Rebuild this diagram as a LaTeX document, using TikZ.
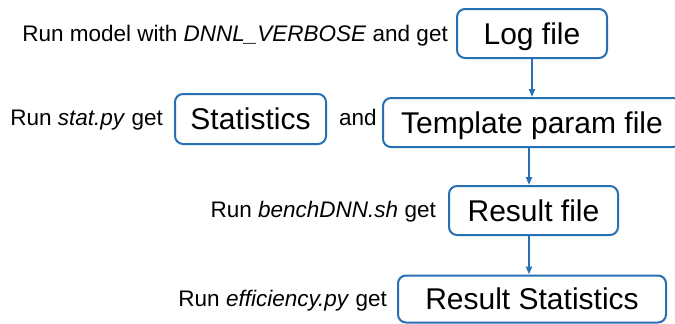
\documentclass[tikz,border=0pt]{standalone}
\usepackage{fontspec}
\setmainfont{Liberation Sans}
\usetikzlibrary{arrows.meta}
\definecolor{flowblue}{RGB}{40,112,180}
\tikzset{
  stepbox/.style={draw=flowblue, line width=2pt, rounded corners=8pt, fill=white,
    inner sep=0pt, font=\fontsize{30}{35}\selectfont,
    text height=21pt, text depth=0pt, anchor=center},
  steplabel/.style={inner sep=0pt, font=\fontsize{22.5}{27}\selectfont},
  flowarrow/.style={draw=flowblue, line width=2pt,
    -{Triangle[length=8pt,width=6pt]}}
}
\begin{document}
\begin{tikzpicture}[x=1pt,y=-1pt]
\useasboundingbox (0,0) rectangle (675,324);
\clip (0,0) rectangle (675,324);

% boxes of the processing chain
\node[stepbox, minimum width=150pt, minimum height=49pt] (log) at (532,33.5) {Log file};
\node[stepbox, minimum width=298pt, minimum height=49pt] (tpl) at (532,122.5) {Template param file};
\node[stepbox, minimum width=151pt, minimum height=50pt] (stat) at (250.5,119) {Statistics};
\node[stepbox, minimum width=169pt, minimum height=49pt] (res) at (533.5,210.5) {Result file};
\node[stepbox, minimum width=268pt, minimum height=47pt] (rstat) at (532,299) {Result Statistics};

% descriptions of each step
\node[steplabel, anchor=base east] (l1) at (448,41) {Run model with \textit{DNNL\_VERBOSE} and get};
\node[steplabel, anchor=base east] (l2) at (163,125) {Run \textit{stat.py} get};
\node[steplabel, anchor=base west] (and) at (339,125) {and};
\node[steplabel, anchor=base east] (l3) at (436,217) {Run \textit{benchDNN.sh} get};
\node[steplabel, anchor=base east] (l4) at (387,306) {Run \textit{efficiency.py} get};

% flow between steps
\draw[flowarrow] (log.south) -- (tpl.north);
\draw[flowarrow] ([xshift=-3pt]tpl.south) -- ([xshift=-3pt]tpl.south |- res.north);
\draw[flowarrow] ([xshift=-4.5pt]res.south) -- ([xshift=-4.5pt]res.south |- rstat.north);
\end{tikzpicture}
\end{document}
